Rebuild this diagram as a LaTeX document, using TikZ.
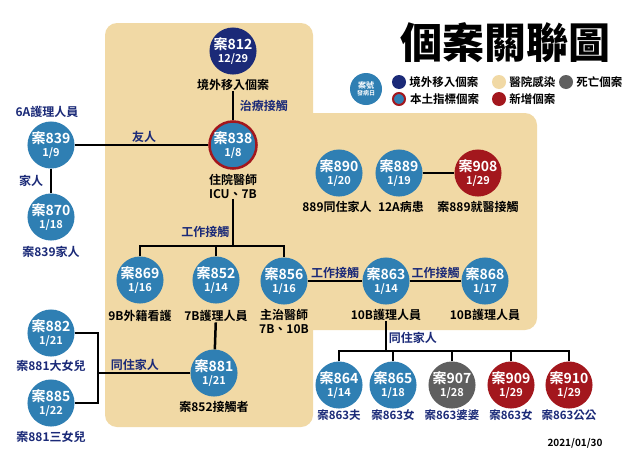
\documentclass[tikz,border=0pt]{standalone}
\usepackage{fontspec}
\setmainfont{Noto Sans CJK TC}[BoldFont={Noto Sans CJK TC Bold}]
\newfontfamily\titlefont{Noto Sans CJK TC Black}
\usetikzlibrary{positioning}
\definecolor{navy}{HTML}{1B2A78}
\definecolor{caseblue}{HTML}{2F7FB3}
\definecolor{casered}{HTML}{A3171D}
\definecolor{casegray}{HTML}{5F5F5F}
\definecolor{hospital}{HTML}{F1D9A5}
\tikzstyle{case} = [circle, minimum size=47pt, inner sep=0pt, text=white, align=center, font=\bfseries\fontsize{14}{14}\selectfont]
\tikzstyle{imported} = [case, fill=navy]
\tikzstyle{local} = [case, fill=caseblue]
\tikzstyle{index} = [local, minimum size=45pt, draw=casered, line width=2.5pt]
\tikzstyle{newcase} = [case, fill=casered]
\tikzstyle{dead} = [case, fill=casegray]
\tikzstyle{desc} = [font=\bfseries\fontsize{12}{14}\selectfont, align=center, inner sep=0.5pt]
\tikzstyle{rel} = [desc, text=navy]
\tikzstyle{kin} = [rel, font=\bfseries\fontsize{11.5}{12}\selectfont]
\tikzstyle{link} = [line width=2.5pt]
\tikzstyle{dot} = [circle, minimum size=14pt, inner sep=0pt]
\tikzstyle{keytext} = [font=\bfseries\fontsize{11.5}{12}\selectfont, inner sep=0pt]
\newcommand{\caseno}[2]{#1\\[-1pt]{\fontsize{11}{11}\selectfont #2}}

\begin{document}
\begin{tikzpicture}[x=1pt, y=-1pt]
    \useasboundingbox (0,0) rectangle (640,453);
    \fill[white] (0,0) rectangle (640,453);
    \fill[hospital, rounded corners=12pt] (105,23) rectangle (313,427);
    \fill[hospital, rounded corners=12pt] (290,113) rectangle (537,330);

    \node[font=\titlefont\fontsize{42}{42}\selectfont] (title) at (505,43) {個案關聯圖};
    \node[local, minimum size=32pt, font=\bfseries\fontsize{8}{8}\selectfont] (key) at (366,89) {案號\\[-1pt]{\fontsize{6}{6}\selectfont 發病日}};
    \node[dot, fill=navy] (k1) at (399,82) {};
    \node[keytext, right=3pt of k1] {境外移入個案};
    \node[dot, fill=hospital] (k2) at (499,82) {};
    \node[keytext, right=3pt of k2] {醫院感染};
    \node[dot, fill=casegray] (k3) at (566,82) {};
    \node[keytext, right=3pt of k3] {死亡個案};
    \node[dot, minimum size=12pt, fill=caseblue, draw=casered, line width=2pt] (k4) at (399,99) {};
    \node[keytext, right=4pt of k4] {本土指標個案};
    \node[dot, fill=casered] (k5) at (499,99) {};
    \node[keytext, right=3pt of k5] {新增個案};

    \node[imported] (c812) at (233,51) {\caseno{案812}{12/29}};
    \node[desc] (d812) at (233,85) {境外移入個案};
    \node[index] (c838) at (233,145) {\caseno{案838}{1/8}};
    \node[desc] (d838) at (233,186) {住院醫師\\ICU、7B};
    \node[local] (c839) at (51,145) {\caseno{案839}{1/9}};
    \node[rel] (d839) at (47,112) {6A護理人員};
    \node[local] (c870) at (51,217) {\caseno{案870}{1/18}};
    \node[rel] (d870) at (51,252) {案839家人};

    \node[local] (c890) at (339,173) {\caseno{案890}{1/20}};
    \node[desc] (d890) at (337,207) {889同住家人};
    \node[local] (c889) at (399,173) {\caseno{案889}{1/19}};
    \node[desc] (d889) at (401,207) {12A病患};
    \node[newcase] (c908) at (478,173) {\caseno{案908}{1/29}};
    \node[desc] (d908) at (478,207) {案889就醫接觸};

    \node[local] (c869) at (140,280) {\caseno{案869}{1/16}};
    \node[desc] (d869) at (140,316) {9B外籍看護};
    \node[local] (c852) at (216,280) {\caseno{案852}{1/14}};
    \node[desc] (d852) at (216,316) {7B護理人員};
    \node[local] (c856) at (284,281) {\caseno{案856}{1/16}};
    \node[desc] (d856) at (284,321) {主治醫師\\7B、10B};
    \node[local] (c863) at (386,281) {\caseno{案863}{1/14}};
    \node[desc] (d863) at (386,315) {10B護理人員};
    \node[local] (c868) at (485,281) {\caseno{案868}{1/17}};
    \node[desc] (d868) at (485,315) {10B護理人員};

    \node[local] (c881) at (214,373) {\caseno{案881}{1/21}};
    \node[desc] (d881) at (214,407) {案852接觸者};
    \node[local] (c882) at (51,333) {\caseno{案882}{1/21}};
    \node[rel] (d882) at (51,366) {案881大女兒};
    \node[local] (c885) at (51,403) {\caseno{案885}{1/22}};
    \node[rel] (d885) at (51,437) {案881三女兒};

    \node[local] (c864) at (339,385) {\caseno{案864}{1/14}};
    \node[kin] (d864) at (339,415) {案863夫};
    \node[local] (c865) at (393,385) {\caseno{案865}{1/18}};
    \node[kin] (d865) at (393,415) {案863女};
    \node[dead] (c907) at (452,385) {\caseno{案907}{1/28}};
    \node[kin] (d907) at (452,415) {案863婆婆};
    \node[newcase] (c909) at (511,385) {\caseno{案909}{1/29}};
    \node[kin] (d909) at (511,415) {案863女};
    \node[newcase] (c910) at (569,385) {\caseno{案910}{1/29}};
    \node[kin] (d910) at (569,415) {案863公公};

    \node[font=\bfseries\fontsize{10}{10}\selectfont] (date) at (575,443) {2021/01/30};

    \coordinate (work) at (233,246);
    \coordinate (home) at (98,373);
    \coordinate (family) at (386,351);

    \draw[link] (d812) -- (c838) node[rel, midway, right=5pt] {治療接觸};
    \draw[link] (c839) -- (c838) node[rel, pos=0.52, above=1pt] {友人};
    \draw[link] (c839) -- (c870) node[rel, midway, left=6pt] {家人};
    \draw[link] (c889) -- (c908);
    \draw[link] (d838) -- (work) node[rel, pos=0.7, left=2pt] {工作接觸};
    \draw[link] (c869) |- (work) -| (c856);
    \draw[link] (c852) -- (c852 |- work);
    \draw[link] (c856) -- (c863) node[rel, midway, above=1pt] {工作接觸};
    \draw[link] (c863) -- (c868) node[rel, midway, above=1pt] {工作接觸};
    \draw[link] (d852) -- (c881);
    \draw[link] (c881) -- (home) node[rel, pos=0.6, above=1pt] {同住家人};
    \draw[link] (c882) -| (home) |- (c885);
    \draw[link] (d863) -- (family) node[rel, pos=0.55, right=1pt] {同住家人};
    \draw[link] (c864) |- (family) -| (c910);
    \draw[link] (c865) -- (c865 |- family);
    \draw[link] (c907) -- (c907 |- family);
    \draw[link] (c909) -- (c909 |- family);
\end{tikzpicture}
\end{document}
